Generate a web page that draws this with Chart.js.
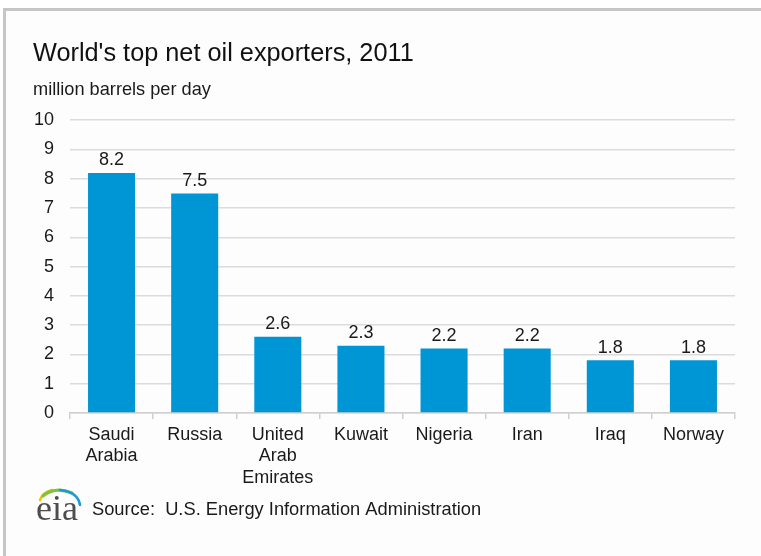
<!DOCTYPE html>
<html>
<head>
<meta charset="utf-8">
<script src="https://cdn.jsdelivr.net/npm/chart.js@4/dist/chart.umd.min.js"></script>
<style>
  html, body { margin: 0; padding: 0; background: #ffffff; }
  #wrap { position: relative; width: 761px; height: 556px; overflow: hidden; background: #ffffff; }
  #frame { position: absolute; left: 3px; top: 8px; width: 758px; height: 548px;
           border-top: 3px solid #c6c6c6; border-left: 3px solid #c6c6c6; box-sizing: border-box; background: #fdfdfd; }
  #c { position: absolute; left: 0; top: 0; }
</style>
</head>
<body>
<div id="wrap">
  <div id="frame"></div>
  <canvas id="c" width="761" height="556"></canvas>
</div>
<script>
const titleText = "World's top net oil exporters, 2011";
const unitText = "million barrels per day";
const sourceText = "Source:  U.S. Energy Information Administration";
const logoText = "eia";

const categories = [
  ["Saudi", "Arabia"],
  ["Russia"],
  ["United", "Arab", "Emirates"],
  ["Kuwait"],
  ["Nigeria"],
  ["Iran"],
  ["Iraq"],
  ["Norway"]
];
const exports2011 = [8.2, 7.5, 2.6, 2.3, 2.2, 2.2, 1.8, 1.8];
const valueLabels = ["8.2", "7.5", "2.6", "2.3", "2.2", "2.2", "1.8", "1.8"];
const yTicks = [0, 1, 2, 3, 4, 5, 6, 7, 8, 9, 10];

const FONT = "'Liberation Sans', Arial, Helvetica, sans-serif";
const TXT = "#1a1a1a";
const BAR = "#0096d6";

const valueLabelPlugin = {
  id: 'valueLabels',
  afterDatasetsDraw(chart) {
    const ctx = chart.ctx;
    const meta = chart.getDatasetMeta(0);
    ctx.save();
    ctx.font = "18px " + FONT;
    ctx.fillStyle = TXT;
    ctx.textAlign = 'center';
    ctx.textBaseline = 'alphabetic';
    meta.data.forEach((bar, i) => {
      ctx.fillText(valueLabels[i], bar.x, bar.y - 7.5);
    });
    ctx.restore();
  }
};

const footerPlugin = {
  id: 'footer',
  afterDraw(chart) {
    const ctx = chart.ctx;
    ctx.save();
    ctx.font = "18.3px " + FONT;
    ctx.fillStyle = TXT;
    ctx.textAlign = 'left';
    ctx.textBaseline = 'alphabetic';
    ctx.fillText(sourceText, 92, 515);
    ctx.font = "36px 'Liberation Serif', 'DejaVu Serif', serif";
    ctx.fillStyle = '#4d4d4d';
    ctx.fillText(logoText, 36, 520);
    ctx.lineCap = 'round';
    ctx.lineWidth = 2.5;
    ctx.strokeStyle = '#f2c200';
    ctx.beginPath(); ctx.moveTo(40, 500); ctx.quadraticCurveTo(43, 492, 52, 490); ctx.stroke();
    ctx.strokeStyle = '#7dc242';
    ctx.lineWidth = 3;
    ctx.beginPath(); ctx.moveTo(43, 496); ctx.quadraticCurveTo(55, 486, 72, 493); ctx.stroke();
    ctx.strokeStyle = '#1a9ad6';
    ctx.lineWidth = 2.5;
    ctx.beginPath(); ctx.moveTo(60, 490); ctx.quadraticCurveTo(78, 492, 80, 505); ctx.stroke();
    ctx.restore();
  }
};

new Chart(document.getElementById('c'), {
  type: 'bar',
  data: {
    labels: categories,
    datasets: [{
      data: exports2011,
      backgroundColor: BAR,
      borderWidth: 0,
      categoryPercentage: 1.0,
      barPercentage: 0.566
    }]
  },
  options: {
    responsive: false,
    animation: false,
    devicePixelRatio: 1,
    layout: { padding: { left: 33, right: 26, top: 20, bottom: 63 } },
    plugins: {
      legend: { display: false },
      tooltip: { enabled: false },
      title: {
        display: true, text: titleText, align: 'start', color: '#111111',
        font: { family: FONT, size: 25.3, weight: 'normal' },
        padding: { top: 19, bottom: 4 }
      },
      subtitle: {
        display: true, text: unitText, align: 'start', color: TXT,
        font: { family: FONT, size: 18.2, weight: 'normal' },
        padding: { top: 6, bottom: 19 }
      }
    },
    scales: {
      x: {
        offset: true,
        grid: { display: true, drawOnChartArea: false, offset: true, tickLength: 6, color: '#cfcfcf', lineWidth: 1.5 },
        border: { display: true, color: '#cfcfcf', width: 1.5 },
        ticks: { color: TXT, font: { family: FONT, size: 18 }, padding: 5, maxRotation: 0, autoSkip: false },
        afterFit(axis) { axis.height = 80; }
      },
      y: {
        min: 0, max: 10,
        afterBuildTicks(axis) { axis.ticks = yTicks.map(v => ({ value: v })); },
        grid: { color: '#dcdcdc', lineWidth: 1.5, drawTicks: false },
        border: { display: false },
        ticks: { color: TXT, font: { family: FONT, size: 18 }, padding: 16 },
        afterFit(axis) { axis.width = 37; }
      }
    }
  },
  plugins: [valueLabelPlugin, footerPlugin]
});
</script>
</body>
</html>
